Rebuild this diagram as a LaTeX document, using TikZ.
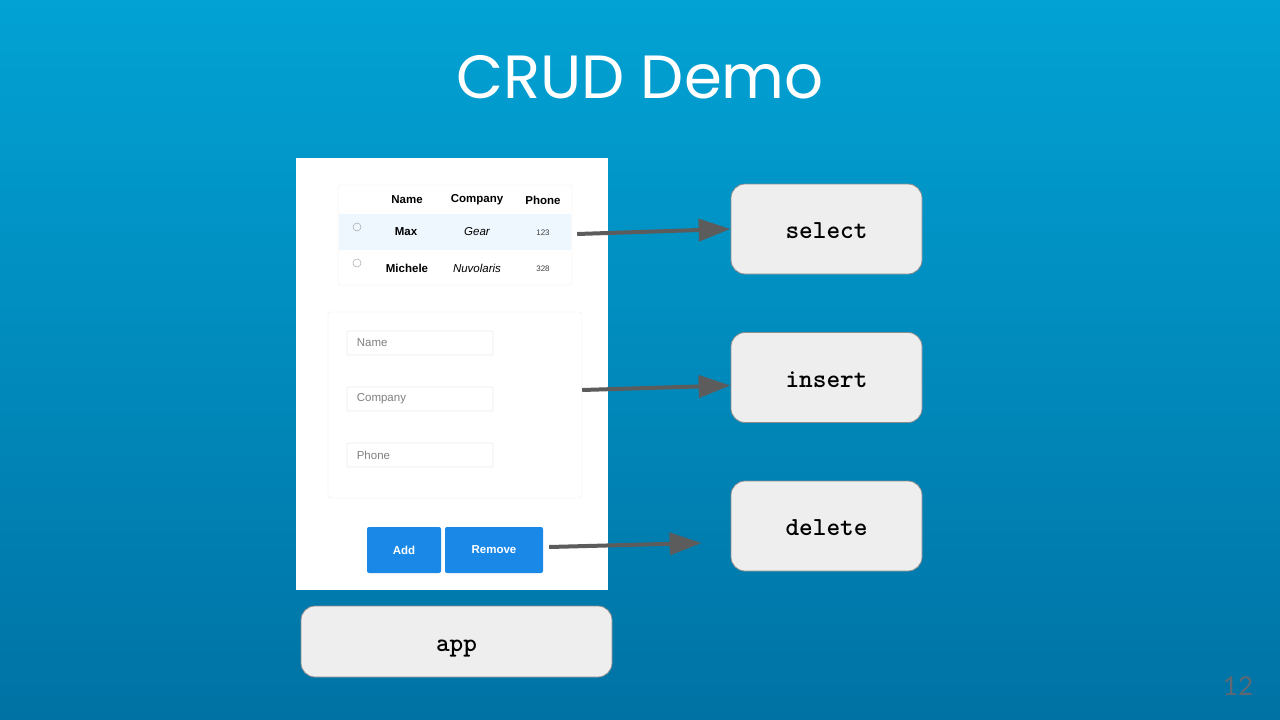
\documentclass[tikz,border=0pt]{standalone}
\usepackage{fontspec}
\setmainfont{Liberation Sans}
\newfontfamily\titlefont{Poppins}
\newfontfamily\pagefont{Lato}
\usetikzlibrary{arrows.meta,positioning}
\definecolor{slidetop}{RGB}{2,162,212}
\definecolor{slidebottom}{RGB}{0,114,164}
\definecolor{arrowgray}{RGB}{92,92,92}
\definecolor{boxgray}{RGB}{238,238,238}
\definecolor{btnblue}{RGB}{26,136,230}
\definecolor{rowblue}{RGB}{238,246,254}
\definecolor{pagegray}{RGB}{96,104,114}

\begin{document}
\begin{tikzpicture}[x=1pt,y=-1pt,
  opbox/.style={draw=black!45, fill=boxgray, rounded corners=14pt, line width=0.8pt,
    minimum width=191pt, minimum height=90pt, text height=19pt, text depth=0pt,
    font=\ttfamily\bfseries\fontsize{26}{28}\selectfont},
  cell/.style={inner sep=0pt, font=\fontsize{11.5}{13}\selectfont},
  small/.style={inner sep=0pt, font=\fontsize{8}{9}\selectfont, text=black!75},
  radio/.style={circle, draw=black!35, line width=0.5pt, minimum size=8pt, inner sep=0pt},
  field/.style={draw=black!7, line width=0.8pt, rounded corners=2pt, minimum width=146pt,
    minimum height=24pt, inner sep=0pt},
  hint/.style={anchor=west, inner sep=0pt, text=black!50, font=\fontsize{11.5}{13}\selectfont},
  button/.style={fill=btnblue, rounded corners=2pt, minimum height=46pt, text=white,
    font=\bfseries\fontsize{11.5}{13}\selectfont},
  flow/.style={-{Triangle[length=32pt,width=22pt]}, draw=arrowgray, line width=4pt}]

% background
\shade[top color=slidetop, bottom color=slidebottom] (0,0) rectangle (1280,720);
\useasboundingbox (0,0) rectangle (1280,720);

\node[anchor=base, text=white, font=\titlefont\fontsize{61}{70}\selectfont] (title) at (640,98) {CRUD Demo};

% screenshot of the app
\node[fill=white, minimum width=312pt, minimum height=432pt, inner sep=0pt] (panel) at (452,374) {};

% table
\node[draw=black!8, rounded corners=2pt, minimum width=234pt, minimum height=100pt, inner sep=0pt] (table) at (455,235) {};
\node[fill=rowblue, minimum width=232pt, minimum height=36pt, inner sep=0pt] (rowmax) at (455,232) {};
\node[cell, font=\bfseries\fontsize{11.5}{13}\selectfont] (hname) at (407,200) {Name};
\node[cell, font=\bfseries\fontsize{11.5}{13}\selectfont] (hcompany) at (477,200) {Company};
\node[cell, font=\bfseries\fontsize{11.5}{13}\selectfont] (hphone) at (543,200) {Phone};
\node[radio] (radiomax) at (357,227) {};
\node[cell, font=\bfseries\fontsize{11.5}{13}\selectfont] (maxname) at (406,232) {Max};
\node[cell, font=\itshape\fontsize{11.5}{13}\selectfont] (maxcompany) at (477,232) {Gear};
\node[small] (maxphone) at (543,233) {123};
\node[radio] (radiomichele) at (357,263) {};
\node[cell, font=\bfseries\fontsize{11.5}{13}\selectfont] (michelename) at (407,268) {Michele};
\node[cell, font=\itshape\fontsize{11.5}{13}\selectfont] (michelecompany) at (477,268) {Nuvolaris};
\node[small] (michelephone) at (543,269) {328};

% form
\node[draw=black!8, rounded corners=3pt, minimum width=254pt, minimum height=186pt, inner sep=0pt] (form) at (455,405) {};
\node[field] (fname) at (420,343) {};
\node[hint] at ([xshift=10pt]fname.west) {Name};
\node[field] (fcompany) at (420,399) {};
\node[hint] at ([xshift=10pt]fcompany.west) {Company};
\node[field] (fphone) at (420,455) {};
\node[hint] at ([xshift=10pt]fphone.west) {Phone};

\node[button, minimum width=74pt] (add) at (404,550) {Add};
\node[button, minimum width=98pt] (remove) at (494,550) {Remove};

% operations
\node[opbox] (select) at (826.5,229) {select};
\node[opbox] (insert) at (826.5,377.5) {insert};
\node[opbox] (delete) at (826.5,526) {delete};
\node[opbox, minimum width=311pt, minimum height=71pt] (app) at (456.5,641.5) {app};

\draw[flow] ([xshift=6pt,yshift=-2pt]rowmax.east) -- (select.west);
\draw[flow] ([yshift=15pt]form.east) -- ([yshift=-8pt]insert.west);
\draw[flow] ([xshift=6pt,yshift=3pt]remove.east) -- ([xshift=-29pt,yshift=-17pt]delete.west);

\node[anchor=base, text=pagegray, font=\pagefont\fontsize{26}{30}\selectfont] (pagenum) at (1238,695) {12};
\end{tikzpicture}
\end{document}
